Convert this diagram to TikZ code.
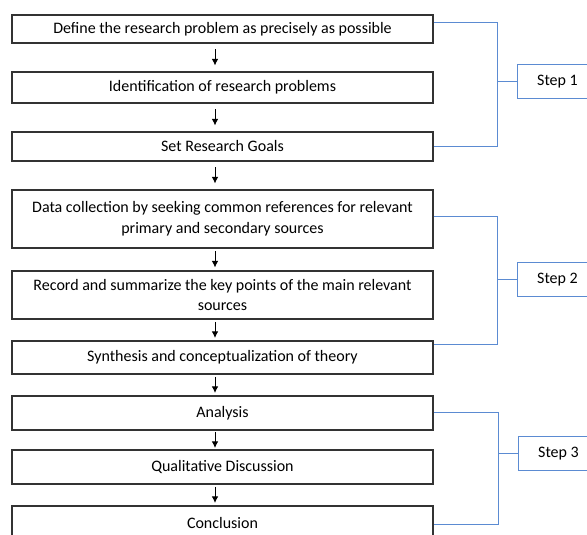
\documentclass[tikz,border=0pt]{standalone}
\usepackage{fontspec}
\setmainfont{Carlito}
\usetikzlibrary{arrows.meta,positioning,calc}
\definecolor{BoxInk}{HTML}{333333}
\definecolor{BracketBlue}{HTML}{5B8BD2}

\begin{document}
\begin{tikzpicture}[x=0.75pt,y=-0.75pt,font=\fontsize{12}{15.5}\selectfont,
  stage/.style={draw=BoxInk, line width=0.85pt, minimum width=315.75pt, align=center, inner sep=2pt},
  flow/.style={-{Latex[length=5pt,width=5pt]}, line width=0.75pt},
  bracket/.style={draw=BracketBlue, line width=0.75pt},
  stepbox/.style={draw=BracketBlue, line width=0.75pt, minimum width=60pt, minimum height=25.5pt, anchor=west}]
  \useasboundingbox (0,0) rectangle (587,535);
  % stages of the research flow
  \node[stage, minimum height=21pt] (b1) at (222.5,29) {Define the research problem as precisely as possible};
  \node[stage, minimum height=23.25pt] (b2) at (222.5,87.5) {Identification of research problems};
  \node[stage, minimum height=21.75pt] (b3) at (222.5,146.5) {Set Research Goals};
  \node[stage, minimum height=43.5pt] (b4) at (222.5,219)
    {Data collection by seeking common references for relevant\\primary and secondary sources};
  \node[stage, minimum height=36pt] (b5) at (222.5,295)
    {Record and summarize the key points of the main relevant\\sources};
  \node[stage, minimum height=24.75pt] (b6) at (222.5,357.5) {Synthesis and conceptualization of theory};
  \node[stage, minimum height=25.5pt] (b7) at (222.5,413) {Analysis};
  \node[stage, minimum height=25.5pt] (b8) at (222.5,467) {Qualitative Discussion};
  \node[stage, minimum height=25.5pt] (b9) at (222.5,523) {Conclusion};
  \foreach \a/\b in {b1/b2, b2/b3, b3/b4, b4/b5, b5/b6, b6/b7, b7/b8, b8/b9}
    {\draw[flow] ($(\a.south)!0.5!(\b.north)+(-7.5,-8)$) -- ++(0,16);}
  % step labels
  \node[stepbox] (s1) at (517,82) {Step 1};
  \node[stepbox] (s2) at (517,280) {Step 2};
  \node[stepbox] (s3) at (518,454) {Step 3};
  % brackets
  \draw[bracket] ($(b1.east)+(0,-6)$) -| ($(b3.east)+(64,0)$) -- (b3.east);
  \draw[bracket] (s1.west) -- ++(-20,0);
  \draw[bracket] ($(b4.east)+(0,-2)$) -| ($(b6.east)+(64,-13)$) -- ($(b6.east)+(0,-13)$);
  \draw[bracket] (s2.west) -- ++(-20,0);
  \draw[bracket] (b7.east) -| ($(b9.east)+(65,2)$) -- ($(b9.east)+(0,2)$);
  \draw[bracket] (s3.west) -- ++(-20,0);
\end{tikzpicture}
\end{document}
